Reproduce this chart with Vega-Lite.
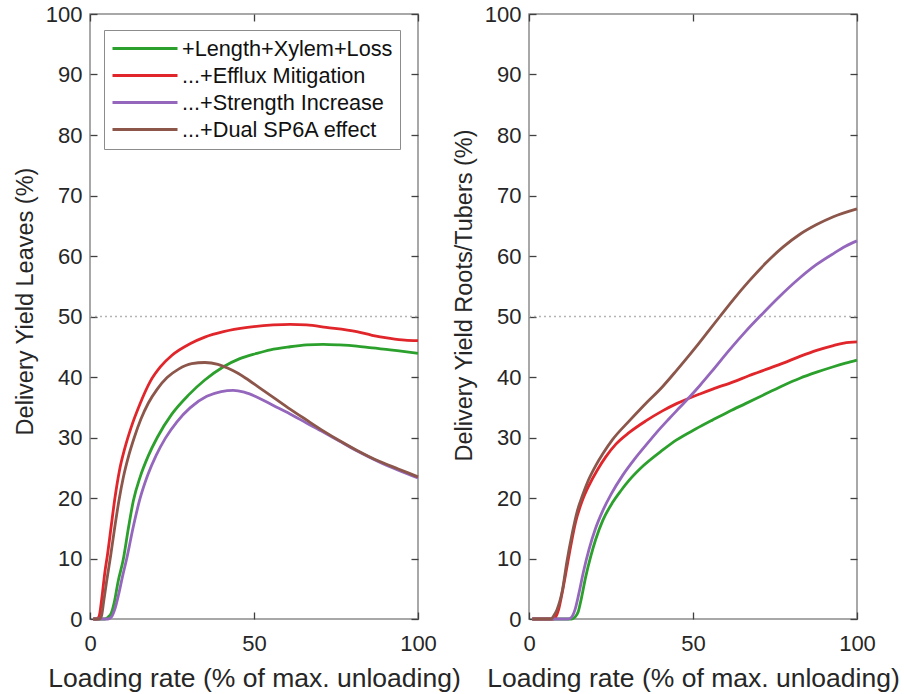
{
  "$schema": "https://vega.github.io/schema/vega-lite/v6.json",
  "padding": {"left": 12, "top": 2, "right": 6, "bottom": 0},
  "background": "white",
  "bounds": "flush",
  "spacing": 111,
  "config": {
    "font": "Liberation Sans",
    "view": {"stroke": "#8c8c8c", "strokeWidth": 1.5},
    "axis": {
      "grid": false, "domain": false, "labelFlush": false,
      "tickColor": "#404040", "tickSize": -7, "tickWidth": 1.3,
      "labelFont": "Liberation Sans", "labelFontSize": 22, "labelColor": "#262626",
      "titleFont": "Liberation Sans", "titleFontSize": 23.5, "titleFontWeight": "normal", "titleColor": "#262626"
    }
  },
  "datasets": {
    "ref": [{"y": 50, "x0": 0, "x1": 100}],
    "curves": [
      {"panel":"L","series":"+Length+Xylem+Loss","x":1,"y":0},
      {"panel":"L","series":"+Length+Xylem+Loss","x":4.5,"y":0},
      {"panel":"L","series":"+Length+Xylem+Loss","x":5.5,"y":0.3},
      {"panel":"L","series":"+Length+Xylem+Loss","x":6.5,"y":1},
      {"panel":"L","series":"+Length+Xylem+Loss","x":7.5,"y":3},
      {"panel":"L","series":"+Length+Xylem+Loss","x":8.5,"y":6},
      {"panel":"L","series":"+Length+Xylem+Loss","x":10.2,"y":10},
      {"panel":"L","series":"+Length+Xylem+Loss","x":11.7,"y":15},
      {"panel":"L","series":"+Length+Xylem+Loss","x":13.2,"y":19.5},
      {"panel":"L","series":"+Length+Xylem+Loss","x":15.3,"y":23.5},
      {"panel":"L","series":"+Length+Xylem+Loss","x":17.8,"y":27},
      {"panel":"L","series":"+Length+Xylem+Loss","x":20.5,"y":30},
      {"panel":"L","series":"+Length+Xylem+Loss","x":25,"y":33.9},
      {"panel":"L","series":"+Length+Xylem+Loss","x":30,"y":37},
      {"panel":"L","series":"+Length+Xylem+Loss","x":35,"y":39.5},
      {"panel":"L","series":"+Length+Xylem+Loss","x":40.7,"y":41.7},
      {"panel":"L","series":"+Length+Xylem+Loss","x":45.5,"y":43},
      {"panel":"L","series":"+Length+Xylem+Loss","x":50.8,"y":43.9},
      {"panel":"L","series":"+Length+Xylem+Loss","x":55,"y":44.5},
      {"panel":"L","series":"+Length+Xylem+Loss","x":61,"y":45},
      {"panel":"L","series":"+Length+Xylem+Loss","x":66,"y":45.3},
      {"panel":"L","series":"+Length+Xylem+Loss","x":71.1,"y":45.4},
      {"panel":"L","series":"+Length+Xylem+Loss","x":76,"y":45.3},
      {"panel":"L","series":"+Length+Xylem+Loss","x":81.3,"y":45.1},
      {"panel":"L","series":"+Length+Xylem+Loss","x":86,"y":44.8},
      {"panel":"L","series":"+Length+Xylem+Loss","x":91.5,"y":44.5},
      {"panel":"L","series":"+Length+Xylem+Loss","x":96,"y":44.2},
      {"panel":"L","series":"+Length+Xylem+Loss","x":100,"y":43.9},

      {"panel":"L","series":"...+Efflux Mitigation","x":1,"y":0},
      {"panel":"L","series":"...+Efflux Mitigation","x":2,"y":0},
      {"panel":"L","series":"...+Efflux Mitigation","x":2.8,"y":0.5},
      {"panel":"L","series":"...+Efflux Mitigation","x":3.5,"y":3},
      {"panel":"L","series":"...+Efflux Mitigation","x":4.6,"y":8},
      {"panel":"L","series":"...+Efflux Mitigation","x":5.3,"y":10.5},
      {"panel":"L","series":"...+Efflux Mitigation","x":6.5,"y":15.5},
      {"panel":"L","series":"...+Efflux Mitigation","x":7.6,"y":20},
      {"panel":"L","series":"...+Efflux Mitigation","x":9,"y":24.6},
      {"panel":"L","series":"...+Efflux Mitigation","x":10.6,"y":28.2},
      {"panel":"L","series":"...+Efflux Mitigation","x":12.5,"y":31.6},
      {"panel":"L","series":"...+Efflux Mitigation","x":15.2,"y":35.5},
      {"panel":"L","series":"...+Efflux Mitigation","x":18.3,"y":39.2},
      {"panel":"L","series":"...+Efflux Mitigation","x":21.5,"y":41.7},
      {"panel":"L","series":"...+Efflux Mitigation","x":25,"y":43.6},
      {"panel":"L","series":"...+Efflux Mitigation","x":30.5,"y":45.5},
      {"panel":"L","series":"...+Efflux Mitigation","x":35,"y":46.6},
      {"panel":"L","series":"...+Efflux Mitigation","x":40.7,"y":47.5},
      {"panel":"L","series":"...+Efflux Mitigation","x":48,"y":48.2},
      {"panel":"L","series":"...+Efflux Mitigation","x":55.9,"y":48.6},
      {"panel":"L","series":"...+Efflux Mitigation","x":61,"y":48.7},
      {"panel":"L","series":"...+Efflux Mitigation","x":66,"y":48.6},
      {"panel":"L","series":"...+Efflux Mitigation","x":72,"y":48.2},
      {"panel":"L","series":"...+Efflux Mitigation","x":81.3,"y":47.5},
      {"panel":"L","series":"...+Efflux Mitigation","x":86,"y":46.9},
      {"panel":"L","series":"...+Efflux Mitigation","x":91.5,"y":46.4},
      {"panel":"L","series":"...+Efflux Mitigation","x":96,"y":46.1},
      {"panel":"L","series":"...+Efflux Mitigation","x":100,"y":46},

      {"panel":"L","series":"...+Strength Increase","x":1,"y":0},
      {"panel":"L","series":"...+Strength Increase","x":5.5,"y":0},
      {"panel":"L","series":"...+Strength Increase","x":6.5,"y":0.3},
      {"panel":"L","series":"...+Strength Increase","x":7.5,"y":1.5},
      {"panel":"L","series":"...+Strength Increase","x":8.7,"y":4},
      {"panel":"L","series":"...+Strength Increase","x":9.9,"y":7},
      {"panel":"L","series":"...+Strength Increase","x":11.2,"y":10},
      {"panel":"L","series":"...+Strength Increase","x":13.1,"y":15},
      {"panel":"L","series":"...+Strength Increase","x":15.2,"y":19.8},
      {"panel":"L","series":"...+Strength Increase","x":17.6,"y":23.8},
      {"panel":"L","series":"...+Strength Increase","x":20.2,"y":27.1},
      {"panel":"L","series":"...+Strength Increase","x":23,"y":29.9},
      {"panel":"L","series":"...+Strength Increase","x":26.5,"y":32.6},
      {"panel":"L","series":"...+Strength Increase","x":30.5,"y":34.9},
      {"panel":"L","series":"...+Strength Increase","x":35.6,"y":36.8},
      {"panel":"L","series":"...+Strength Increase","x":40,"y":37.6},
      {"panel":"L","series":"...+Strength Increase","x":43.7,"y":37.8},
      {"panel":"L","series":"...+Strength Increase","x":47,"y":37.5},
      {"panel":"L","series":"...+Strength Increase","x":50.8,"y":36.7},
      {"panel":"L","series":"...+Strength Increase","x":55.9,"y":35.3},
      {"panel":"L","series":"...+Strength Increase","x":61,"y":33.9},
      {"panel":"L","series":"...+Strength Increase","x":66,"y":32.4},
      {"panel":"L","series":"...+Strength Increase","x":71.1,"y":30.9},
      {"panel":"L","series":"...+Strength Increase","x":76,"y":29.4},
      {"panel":"L","series":"...+Strength Increase","x":81.3,"y":27.8},
      {"panel":"L","series":"...+Strength Increase","x":88,"y":26},
      {"panel":"L","series":"...+Strength Increase","x":94,"y":24.6},
      {"panel":"L","series":"...+Strength Increase","x":100,"y":23.3},

      {"panel":"L","series":"...+Dual SP6A effect","x":1,"y":0},
      {"panel":"L","series":"...+Dual SP6A effect","x":2.8,"y":0},
      {"panel":"L","series":"...+Dual SP6A effect","x":3.5,"y":0.5},
      {"panel":"L","series":"...+Dual SP6A effect","x":4.2,"y":3},
      {"panel":"L","series":"...+Dual SP6A effect","x":5,"y":6},
      {"panel":"L","series":"...+Dual SP6A effect","x":6.3,"y":10.5},
      {"panel":"L","series":"...+Dual SP6A effect","x":7.5,"y":15},
      {"panel":"L","series":"...+Dual SP6A effect","x":8.8,"y":19.5},
      {"panel":"L","series":"...+Dual SP6A effect","x":10.2,"y":23.5},
      {"panel":"L","series":"...+Dual SP6A effect","x":11.8,"y":27},
      {"panel":"L","series":"...+Dual SP6A effect","x":13.5,"y":30},
      {"panel":"L","series":"...+Dual SP6A effect","x":15.5,"y":33},
      {"panel":"L","series":"...+Dual SP6A effect","x":17.8,"y":35.7},
      {"panel":"L","series":"...+Dual SP6A effect","x":20.5,"y":38},
      {"panel":"L","series":"...+Dual SP6A effect","x":23.5,"y":39.9},
      {"panel":"L","series":"...+Dual SP6A effect","x":27,"y":41.3},
      {"panel":"L","series":"...+Dual SP6A effect","x":31,"y":42.2},
      {"panel":"L","series":"...+Dual SP6A effect","x":35,"y":42.4},
      {"panel":"L","series":"...+Dual SP6A effect","x":39,"y":42.1},
      {"panel":"L","series":"...+Dual SP6A effect","x":43.4,"y":41.1},
      {"panel":"L","series":"...+Dual SP6A effect","x":47.5,"y":39.8},
      {"panel":"L","series":"...+Dual SP6A effect","x":51.5,"y":38.3},
      {"panel":"L","series":"...+Dual SP6A effect","x":56,"y":36.6},
      {"panel":"L","series":"...+Dual SP6A effect","x":61,"y":34.7},
      {"panel":"L","series":"...+Dual SP6A effect","x":66,"y":32.9},
      {"panel":"L","series":"...+Dual SP6A effect","x":71.1,"y":31.1},
      {"panel":"L","series":"...+Dual SP6A effect","x":76,"y":29.5},
      {"panel":"L","series":"...+Dual SP6A effect","x":81.3,"y":27.9},
      {"panel":"L","series":"...+Dual SP6A effect","x":88,"y":26.1},
      {"panel":"L","series":"...+Dual SP6A effect","x":94,"y":24.8},
      {"panel":"L","series":"...+Dual SP6A effect","x":100,"y":23.5},

      {"panel":"R","series":"+Length+Xylem+Loss","x":1,"y":0},
      {"panel":"R","series":"+Length+Xylem+Loss","x":13,"y":0},
      {"panel":"R","series":"+Length+Xylem+Loss","x":14,"y":0.3},
      {"panel":"R","series":"+Length+Xylem+Loss","x":15,"y":1.2},
      {"panel":"R","series":"+Length+Xylem+Loss","x":16,"y":3.5},
      {"panel":"R","series":"+Length+Xylem+Loss","x":17.3,"y":7},
      {"panel":"R","series":"+Length+Xylem+Loss","x":18.8,"y":10.3},
      {"panel":"R","series":"+Length+Xylem+Loss","x":20.3,"y":13.1},
      {"panel":"R","series":"+Length+Xylem+Loss","x":22.5,"y":16.3},
      {"panel":"R","series":"+Length+Xylem+Loss","x":25.4,"y":19.2},
      {"panel":"R","series":"+Length+Xylem+Loss","x":28,"y":21.2},
      {"panel":"R","series":"+Length+Xylem+Loss","x":30.5,"y":22.9},
      {"panel":"R","series":"+Length+Xylem+Loss","x":35,"y":25.4},
      {"panel":"R","series":"+Length+Xylem+Loss","x":40.7,"y":27.9},
      {"panel":"R","series":"+Length+Xylem+Loss","x":45,"y":29.6},
      {"panel":"R","series":"+Length+Xylem+Loss","x":50.8,"y":31.4},
      {"panel":"R","series":"+Length+Xylem+Loss","x":56,"y":32.9},
      {"panel":"R","series":"+Length+Xylem+Loss","x":61,"y":34.3},
      {"panel":"R","series":"+Length+Xylem+Loss","x":66,"y":35.6},
      {"panel":"R","series":"+Length+Xylem+Loss","x":72.5,"y":37.3},
      {"panel":"R","series":"+Length+Xylem+Loss","x":77.5,"y":38.6},
      {"panel":"R","series":"+Length+Xylem+Loss","x":82.6,"y":39.8},
      {"panel":"R","series":"+Length+Xylem+Loss","x":87.7,"y":40.8},
      {"panel":"R","series":"+Length+Xylem+Loss","x":92.8,"y":41.7},
      {"panel":"R","series":"+Length+Xylem+Loss","x":96.5,"y":42.3},
      {"panel":"R","series":"+Length+Xylem+Loss","x":100,"y":42.8},

      {"panel":"R","series":"...+Efflux Mitigation","x":1,"y":0},
      {"panel":"R","series":"...+Efflux Mitigation","x":7.5,"y":0},
      {"panel":"R","series":"...+Efflux Mitigation","x":8.1,"y":0.3},
      {"panel":"R","series":"...+Efflux Mitigation","x":9,"y":1.5},
      {"panel":"R","series":"...+Efflux Mitigation","x":10,"y":4},
      {"panel":"R","series":"...+Efflux Mitigation","x":11.2,"y":7.5},
      {"panel":"R","series":"...+Efflux Mitigation","x":12.7,"y":12},
      {"panel":"R","series":"...+Efflux Mitigation","x":14.2,"y":16},
      {"panel":"R","series":"...+Efflux Mitigation","x":16.2,"y":19.5},
      {"panel":"R","series":"...+Efflux Mitigation","x":18.3,"y":22.1},
      {"panel":"R","series":"...+Efflux Mitigation","x":20.8,"y":24.6},
      {"panel":"R","series":"...+Efflux Mitigation","x":23.4,"y":26.8},
      {"panel":"R","series":"...+Efflux Mitigation","x":26.5,"y":28.9},
      {"panel":"R","series":"...+Efflux Mitigation","x":30.5,"y":30.8},
      {"panel":"R","series":"...+Efflux Mitigation","x":35.5,"y":32.7},
      {"panel":"R","series":"...+Efflux Mitigation","x":40.7,"y":34.4},
      {"panel":"R","series":"...+Efflux Mitigation","x":45,"y":35.6},
      {"panel":"R","series":"...+Efflux Mitigation","x":48.8,"y":36.5},
      {"panel":"R","series":"...+Efflux Mitigation","x":52.1,"y":37.2},
      {"panel":"R","series":"...+Efflux Mitigation","x":56,"y":38},
      {"panel":"R","series":"...+Efflux Mitigation","x":62.3,"y":39.2},
      {"panel":"R","series":"...+Efflux Mitigation","x":67,"y":40.2},
      {"panel":"R","series":"...+Efflux Mitigation","x":72.5,"y":41.3},
      {"panel":"R","series":"...+Efflux Mitigation","x":77.5,"y":42.3},
      {"panel":"R","series":"...+Efflux Mitigation","x":82.6,"y":43.4},
      {"panel":"R","series":"...+Efflux Mitigation","x":87.7,"y":44.4},
      {"panel":"R","series":"...+Efflux Mitigation","x":92.8,"y":45.2},
      {"panel":"R","series":"...+Efflux Mitigation","x":96,"y":45.6},
      {"panel":"R","series":"...+Efflux Mitigation","x":100,"y":45.8},

      {"panel":"R","series":"...+Strength Increase","x":1,"y":0},
      {"panel":"R","series":"...+Strength Increase","x":12,"y":0},
      {"panel":"R","series":"...+Strength Increase","x":13,"y":0.3},
      {"panel":"R","series":"...+Strength Increase","x":14,"y":1.5},
      {"panel":"R","series":"...+Strength Increase","x":15.2,"y":4.2},
      {"panel":"R","series":"...+Strength Increase","x":16.6,"y":7.8},
      {"panel":"R","series":"...+Strength Increase","x":18.3,"y":11.5},
      {"panel":"R","series":"...+Strength Increase","x":20.3,"y":15},
      {"panel":"R","series":"...+Strength Increase","x":22.4,"y":17.8},
      {"panel":"R","series":"...+Strength Increase","x":25,"y":20.6},
      {"panel":"R","series":"...+Strength Increase","x":28.5,"y":23.7},
      {"panel":"R","series":"...+Strength Increase","x":32,"y":26.3},
      {"panel":"R","series":"...+Strength Increase","x":35.6,"y":28.7},
      {"panel":"R","series":"...+Strength Increase","x":39,"y":30.9},
      {"panel":"R","series":"...+Strength Increase","x":42.7,"y":33.1},
      {"panel":"R","series":"...+Strength Increase","x":46,"y":35},
      {"panel":"R","series":"...+Strength Increase","x":49.3,"y":36.9},
      {"panel":"R","series":"...+Strength Increase","x":52.1,"y":38.6},
      {"panel":"R","series":"...+Strength Increase","x":56,"y":41.1},
      {"panel":"R","series":"...+Strength Increase","x":61,"y":44.4},
      {"panel":"R","series":"...+Strength Increase","x":66,"y":47.5},
      {"panel":"R","series":"...+Strength Increase","x":70.9,"y":50.3},
      {"panel":"R","series":"...+Strength Increase","x":76,"y":53.1},
      {"panel":"R","series":"...+Strength Increase","x":82.6,"y":56.4},
      {"panel":"R","series":"...+Strength Increase","x":87.7,"y":58.6},
      {"panel":"R","series":"...+Strength Increase","x":92.8,"y":60.4},
      {"panel":"R","series":"...+Strength Increase","x":96.5,"y":61.6},
      {"panel":"R","series":"...+Strength Increase","x":100,"y":62.5},

      {"panel":"R","series":"...+Dual SP6A effect","x":1,"y":0},
      {"panel":"R","series":"...+Dual SP6A effect","x":6.8,"y":0},
      {"panel":"R","series":"...+Dual SP6A effect","x":7.5,"y":0.5},
      {"panel":"R","series":"...+Dual SP6A effect","x":8.5,"y":1.5},
      {"panel":"R","series":"...+Dual SP6A effect","x":10.2,"y":4.8},
      {"panel":"R","series":"...+Dual SP6A effect","x":11.5,"y":9.3},
      {"panel":"R","series":"...+Dual SP6A effect","x":13.2,"y":14.2},
      {"panel":"R","series":"...+Dual SP6A effect","x":14.7,"y":17.8},
      {"panel":"R","series":"...+Dual SP6A effect","x":16.3,"y":20.4},
      {"panel":"R","series":"...+Dual SP6A effect","x":18,"y":22.8},
      {"panel":"R","series":"...+Dual SP6A effect","x":20.3,"y":25.3},
      {"panel":"R","series":"...+Dual SP6A effect","x":22.5,"y":27.3},
      {"panel":"R","series":"...+Dual SP6A effect","x":25.4,"y":29.6},
      {"panel":"R","series":"...+Dual SP6A effect","x":30.5,"y":32.7},
      {"panel":"R","series":"...+Dual SP6A effect","x":35,"y":35.3},
      {"panel":"R","series":"...+Dual SP6A effect","x":40.7,"y":38.4},
      {"panel":"R","series":"...+Dual SP6A effect","x":45,"y":41.1},
      {"panel":"R","series":"...+Dual SP6A effect","x":50.8,"y":44.9},
      {"panel":"R","series":"...+Dual SP6A effect","x":55,"y":47.8},
      {"panel":"R","series":"...+Dual SP6A effect","x":58.2,"y":50},
      {"panel":"R","series":"...+Dual SP6A effect","x":62.3,"y":52.8},
      {"panel":"R","series":"...+Dual SP6A effect","x":67,"y":55.8},
      {"panel":"R","series":"...+Dual SP6A effect","x":72.5,"y":59},
      {"panel":"R","series":"...+Dual SP6A effect","x":77.5,"y":61.5},
      {"panel":"R","series":"...+Dual SP6A effect","x":82.6,"y":63.6},
      {"panel":"R","series":"...+Dual SP6A effect","x":87.7,"y":65.2},
      {"panel":"R","series":"...+Dual SP6A effect","x":92.8,"y":66.5},
      {"panel":"R","series":"...+Dual SP6A effect","x":100,"y":67.8}
    ]
  },
  "resolve": {"legend": {"color": "independent"}},
  "hconcat": [
    {
      "width": 328, "height": 605,
      "resolve": {"axis": {"x": "independent", "y": "independent"}},
      "layer": [
        {
          "data": {"name": "ref"},
          "mark": {"type": "rule", "strokeDash": [2, 3], "color": "#b4b4b4", "strokeWidth": 1.6},
          "encoding": {
            "x": {"field": "x0", "type": "quantitative", "scale": {"domain": [0, 100], "nice": false},
                  "axis": {"orient": "top", "values": [0, 50, 100], "labels": false, "title": null}},
            "x2": {"field": "x1"},
            "y": {"field": "y", "type": "quantitative", "scale": {"domain": [0, 100], "nice": false},
                  "axis": {"orient": "right", "values": [0,10,20,30,40,50,60,70,80,90,100], "labels": false, "title": null}}
          }
        },
        {
          "data": {"name": "curves"},
          "transform": [{"filter": "datum.panel == 'L'"}],
          "mark": {"type": "line", "strokeWidth": 2.8, "interpolate": "monotone"},
          "encoding": {
            "x": {"field": "x", "type": "quantitative", "scale": {"domain": [0, 100], "nice": false},
                  "axis": {"values": [0, 50, 100], "title": "Loading rate (% of max. unloading)", "labelPadding": 21, "titlePadding": 11, "titleFontSize": 26.5}},
            "y": {"field": "y", "type": "quantitative", "scale": {"domain": [0, 100], "nice": false},
                  "axis": {"values": [0,10,20,30,40,50,60,70,80,90,100], "title": "Delivery Yield Leaves (%)", "labelPadding": 15, "titlePadding": 8, "titleY": 287}},
            "color": {
              "field": "series", "type": "nominal",
              "scale": {"domain": ["+Length+Xylem+Loss", "...+Efflux Mitigation", "...+Strength Increase", "...+Dual SP6A effect"],
                        "range": ["#2ca02c", "#e0262b", "#9467bd", "#8c564b"]},
              "legend": {
                "orient": "none", "legendX": 14, "legendY": 16, "title": null,
                "symbolType": "M-1,0H5.5", "symbolSize": 400, "symbolStrokeWidth": 3,
                "labelFontSize": 21.7, "labelColor": "#111111", "labelLimit": 400, "labelOffset": 48,
                "strokeColor": "#8c8c8c", "fillColor": "white", "padding": 7, "rowPadding": 3
              }
            }
          }
        }
      ]
    },
    {
      "width": 328, "height": 605,
      "resolve": {"axis": {"x": "independent", "y": "independent"}},
      "layer": [
        {
          "data": {"name": "ref"},
          "mark": {"type": "rule", "strokeDash": [2, 3], "color": "#b4b4b4", "strokeWidth": 1.6},
          "encoding": {
            "x": {"field": "x0", "type": "quantitative", "scale": {"domain": [0, 100], "nice": false},
                  "axis": {"orient": "top", "values": [0, 50, 100], "labels": false, "title": null}},
            "x2": {"field": "x1"},
            "y": {"field": "y", "type": "quantitative", "scale": {"domain": [0, 100], "nice": false},
                  "axis": {"orient": "right", "values": [0,10,20,30,40,50,60,70,80,90,100], "labels": false, "title": null}}
          }
        },
        {
          "data": {"name": "curves"},
          "transform": [{"filter": "datum.panel == 'R'"}],
          "mark": {"type": "line", "strokeWidth": 2.8, "interpolate": "monotone"},
          "encoding": {
            "x": {"field": "x", "type": "quantitative", "scale": {"domain": [0, 100], "nice": false},
                  "axis": {"values": [0, 50, 100], "title": "Loading rate (% of max. unloading)", "labelPadding": 21, "titlePadding": 11, "titleFontSize": 26.5}},
            "y": {"field": "y", "type": "quantitative", "scale": {"domain": [0, 100], "nice": false},
                  "axis": {"values": [0,10,20,30,40,50,60,70,80,90,100], "title": "Delivery Yield Roots/Tubers (%)", "labelPadding": 15, "titlePadding": 8, "titleY": 281}},
            "color": {
              "field": "series", "type": "nominal",
              "scale": {"domain": ["+Length+Xylem+Loss", "...+Efflux Mitigation", "...+Strength Increase", "...+Dual SP6A effect"],
                        "range": ["#2ca02c", "#e0262b", "#9467bd", "#8c564b"]},
              "legend": null
            }
          }
        }
      ]
    }
  ]
}
